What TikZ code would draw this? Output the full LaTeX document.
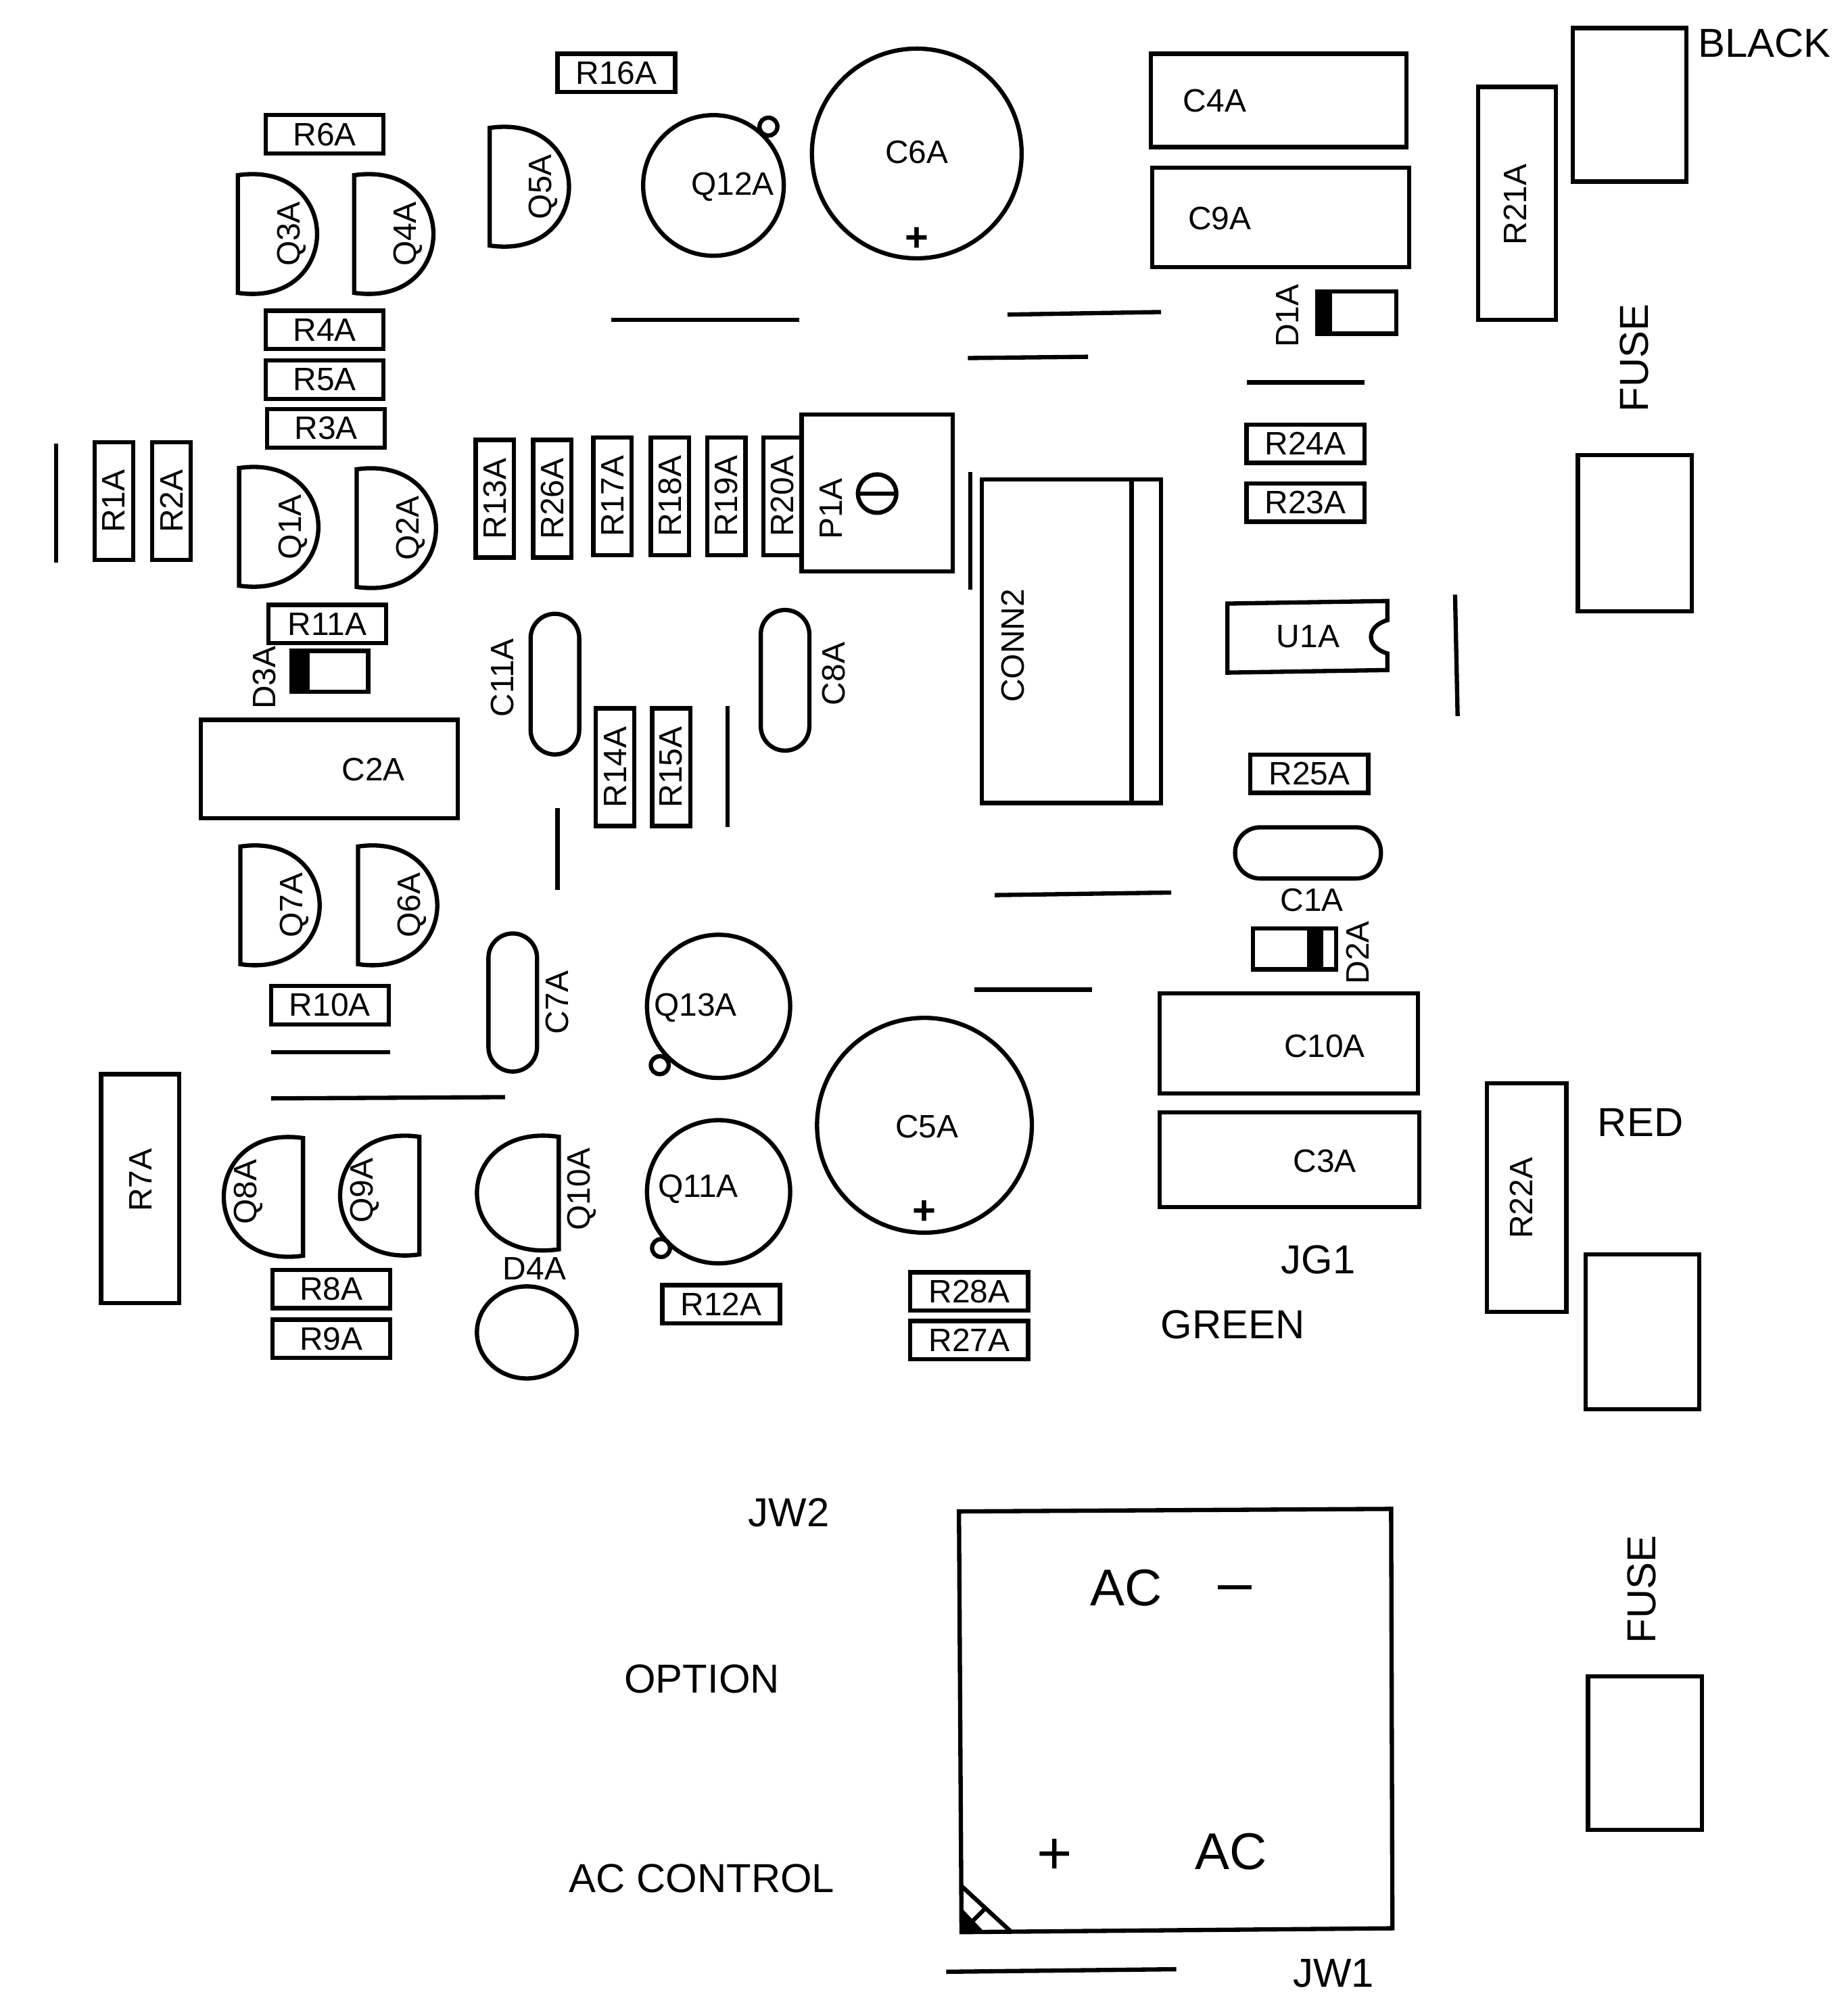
\documentclass[tikz,border=0pt]{standalone}
\usepackage{fontspec}
\setmainfont{Liberation Sans}
\usepackage{tikz}

\tikzset{
    part/.style = {line width = 0.95pt},
    lbl/.style = {font = \fontsize{7.2}{8}\selectfont, inner sep = 0pt},
    bigl/.style = {font = \fontsize{9}{10}\selectfont, inner sep = 0pt},
    hugel/.style = {font = \fontsize{11.5}{12}\selectfont, inner sep = 0pt},
    signl/.style = {font = \fontsize{13.5}{14}\selectfont, inner sep = 0pt},
    polel/.style = {font = \fontsize{9}{10}\selectfont\bfseries, inner sep = 0pt},
    hres/.style = {part, draw, lbl, minimum width = 0.92cm, minimum height = 0.30cm},
    vres/.style = {hres, rotate = 90}
}

\begin{document}
\begin{tikzpicture}[x = 0.01cm, y = -0.01cm]

    \useasboundingbox (0,0) rectangle (1445,1568);

    % horizontal resistors
    \foreach \x/\y/\name in {254/105/R6A, 482/57/R16A, 254/258/R4A, 254/297/R5A, 255/335/R3A,
        256/488/R11A, 258/786/R10A, 259/1008/R8A, 259/1047/R9A, 564/1020/R12A,
        758/1010/R28A, 758/1048/R27A, 1021/347/R24A, 1021/393/R23A, 1024/605/R25A}
    \node[hres] (\name) at (\x,\y) {\name};

    % vertical resistors
    \foreach \x/\y/\name in {89/392/R1A, 134/392/R2A, 387/390/R13A, 432/390/R26A, 479/388/R17A,
        524/388/R18A, 568/388/R19A, 612/388/R20A, 481/600/R14A, 525/600/R15A}
    \node[vres] (\name) at (\x,\y) {\name};

    % flat side left
    \foreach \x/\y/\name in {186/183/Q3A, 277/183/Q4A, 383/146/Q5A, 187/412/Q1A,
        279/413/Q2A, 188/708/Q7A, 280/708/Q6A} {
        \draw[part] (\x,\y-46) -- (\x,\y+46) .. controls (\x+42,\y+52) and (\x+62,\y+25) .. (\x+62,\y)
            .. controls (\x+62,\y-25) and (\x+42,\y-52) .. (\x,\y-46) -- cycle;
        \node[lbl, rotate = 90] (\name) at (\x+42,\y) {\name};
    }

    % flat side right
    \foreach \x/\y/\name in {237/936/Q8A, 328/935/Q9A} {
        \draw[part] (\x,\y-46) -- (\x,\y+46) .. controls (\x-42,\y+52) and (\x-62,\y+25) .. (\x-62,\y)
            .. controls (\x-62,\y-25) and (\x-42,\y-52) .. (\x,\y-46) -- cycle;
        \node[lbl, rotate = 90] (\name) at (\x-43,\y-4) {\name};
    }
    \draw[part] (437,889) -- (437,977) .. controls (395,983) and (373,958) .. (373,933)
        .. controls (373,908) and (395,883) .. (437,889) -- cycle;
    \node[lbl, rotate = 90] (Q10A) at (455,930) {Q10A};

    % round cases with a tab
    \draw[part] (558,145) circle (55);
    \draw[part, fill = white] (601,99) circle (7);
    \node[lbl] (Q12A) at (573,146) {Q12A};
    \draw[part] (562,787) circle (56);
    \draw[part, fill = white] (516,833) circle (7);
    \node[lbl] (Q13A) at (544,788) {Q13A};
    \draw[part] (562,932) circle (56);
    \draw[part, fill = white] (517,976) circle (7);
    \node[lbl] (Q11A) at (546,930) {Q11A};
    \draw[part] (412,1042) ellipse (39 and 36);
    \node[lbl] (D4A) at (418,992) {D4A};

    \draw[part] (717,120) circle (82);
    \node[lbl] (C6A) at (717,119) {C6A};
    \node[polel] (C6Aplus) at (717,187) {+};
    \draw[part] (723,880) circle (84);
    \node[lbl] (C5A) at (725,881) {C5A};
    \node[polel] (C5Aplus) at (723,948) {+};

    % box capacitors
    \draw[part] (900,42) rectangle (1100,115);
    \node[lbl] (C4A) at (950,79) {C4A};
    \draw[part] (901,131) rectangle (1102,209);
    \node[lbl] (C9A) at (954,171) {C9A};
    \draw[part] (157,563) rectangle (358,640);
    \node[lbl] (C2A) at (292,602) {C2A};
    \draw[part] (907,777) rectangle (1109,855);
    \node[lbl] (C10A) at (1036,818) {C10A};
    \draw[part] (907,870) rectangle (1110,944);
    \node[lbl] (C3A) at (1036,908) {C3A};

    % long resistors
    \draw[part] (1156,68) rectangle (1217,250);
    \node[lbl, rotate = 90] (R21A) at (1185,160) {R21A};
    \draw[part] (1163,847) rectangle (1225,1026);
    \node[lbl, rotate = 90] (R22A) at (1190,937) {R22A};
    \draw[part] (79,840) rectangle (140,1019);
    \node[lbl, rotate = 90] (R7A) at (110,923) {R7A};

    % capsule capacitors
    \draw[part, rounded corners = 0.19cm] (415,480) rectangle (453,590);
    \node[lbl, rotate = 90] (C11A) at (393,530) {C11A};
    \draw[part, rounded corners = 0.19cm] (595,477) rectangle (633,587);
    \node[lbl, rotate = 90] (C8A) at (652,527) {C8A};
    \draw[part, rounded corners = 0.19cm] (382,730) rectangle (420,838);
    \node[lbl, rotate = 90] (C7A) at (436,784) {C7A};
    \draw[part, rounded corners = 0.195cm] (966,647) rectangle (1080,687);
    \node[lbl] (C1A) at (1026,704) {C1A};

    % diodes
    \draw[part] (1030,228) rectangle (1092,261);
    \fill (1030,228) rectangle (1042,261);
    \node[lbl, rotate = 90] (D1A) at (1007,247) {D1A};
    \draw[part] (228,509) rectangle (288,541);
    \fill (228,509) rectangle (242,541);
    \node[lbl, rotate = 90] (D3A) at (207,530) {D3A};
    \draw[part] (980,726) rectangle (1045,758);
    \fill (1022,726) rectangle (1035,758);
    \node[lbl, rotate = 90] (D2A) at (1062,745) {D2A};

    % trimmer
    \draw[part] (627,324) rectangle (745,447);
    \node[lbl, rotate = 90] (P1A) at (650,398) {P1A};
    \draw[part] (686,386) circle (15);
    \draw[part] (671,386) -- (701,386);

    % connector
    \draw[part] (768,375) rectangle (908,628);
    \draw[part] (885,375) -- (885,628);
    \node[lbl, rotate = 90] (CONN2) at (792,505) {CONN2};

    % regulator
    \draw[part] (960,472) -- (1085,470) -- (1085,485) .. controls (1068,490) and (1068,506) .. (1085,511)
        -- (1085,524) -- (960,526) -- cycle;
    \node[lbl] (U1A) at (1023,498) {U1A};

    % fuse clips
    \draw[part] (1230,22) rectangle (1319,142);
    \draw[part] (1234,356) rectangle (1323,478);
    \draw[part] (1240,981) rectangle (1329,1102);
    \draw[part] (1242,1311) rectangle (1331,1431);
    \node[bigl, rotate = 90] (FUSEa) at (1278,280) {FUSE};
    \node[bigl, rotate = 90] (FUSEb) at (1284,1243) {FUSE};

    % bridge
    \draw[part] (750,1182) -- (1088,1180) -- (1089,1508) -- (752,1511) -- cycle;
    \draw[part] (752,1475) -- (790,1510);
    \draw[part] (752,1511) -- (771,1492);
    \fill (752,1492) -- (770,1511) -- (752,1511) -- cycle;
    \node[hugel] (ACa) at (881,1242) {AC};
    \node[hugel] (ACb) at (963,1448) {AC};
    \node[signl] (minus) at (966,1247) {--};
    \node[signl] (plus) at (825,1452) {+};

    % free labels
    \node[bigl] (BLACK) at (1380,34) {BLACK};
    \node[bigl] (RED) at (1283,878) {RED};
    \node[bigl] (GREEN) at (964,1036) {GREEN};
    \node[bigl] (JG1) at (1031,985) {JG1};
    \node[bigl] (JW2) at (617,1183) {JW2};
    \node[bigl] (OPTION) at (549,1313) {OPTION};
    \node[bigl] (ACCONTROL) at (549,1469) {AC CONTROL};
    \node[bigl] (JW1) at (1043,1543) {JW1};

    % board marks
    \foreach \xa/\ya/\xb/\yb in {478/250/625/250, 788/246/908/244, 757/280/851/279, 975/299/1067/299,
        44/347/44/440, 759/369/759/461, 1138/465/1140/560, 569/552/569/647, 436/632/436/696,
        778/700/916/698, 762/774/854/774, 212/823/305/823, 212/859/395/858, 740/1542/920/1540}
    \draw[part] (\xa,\ya) -- (\xb,\yb);

\end{tikzpicture}
\end{document}
